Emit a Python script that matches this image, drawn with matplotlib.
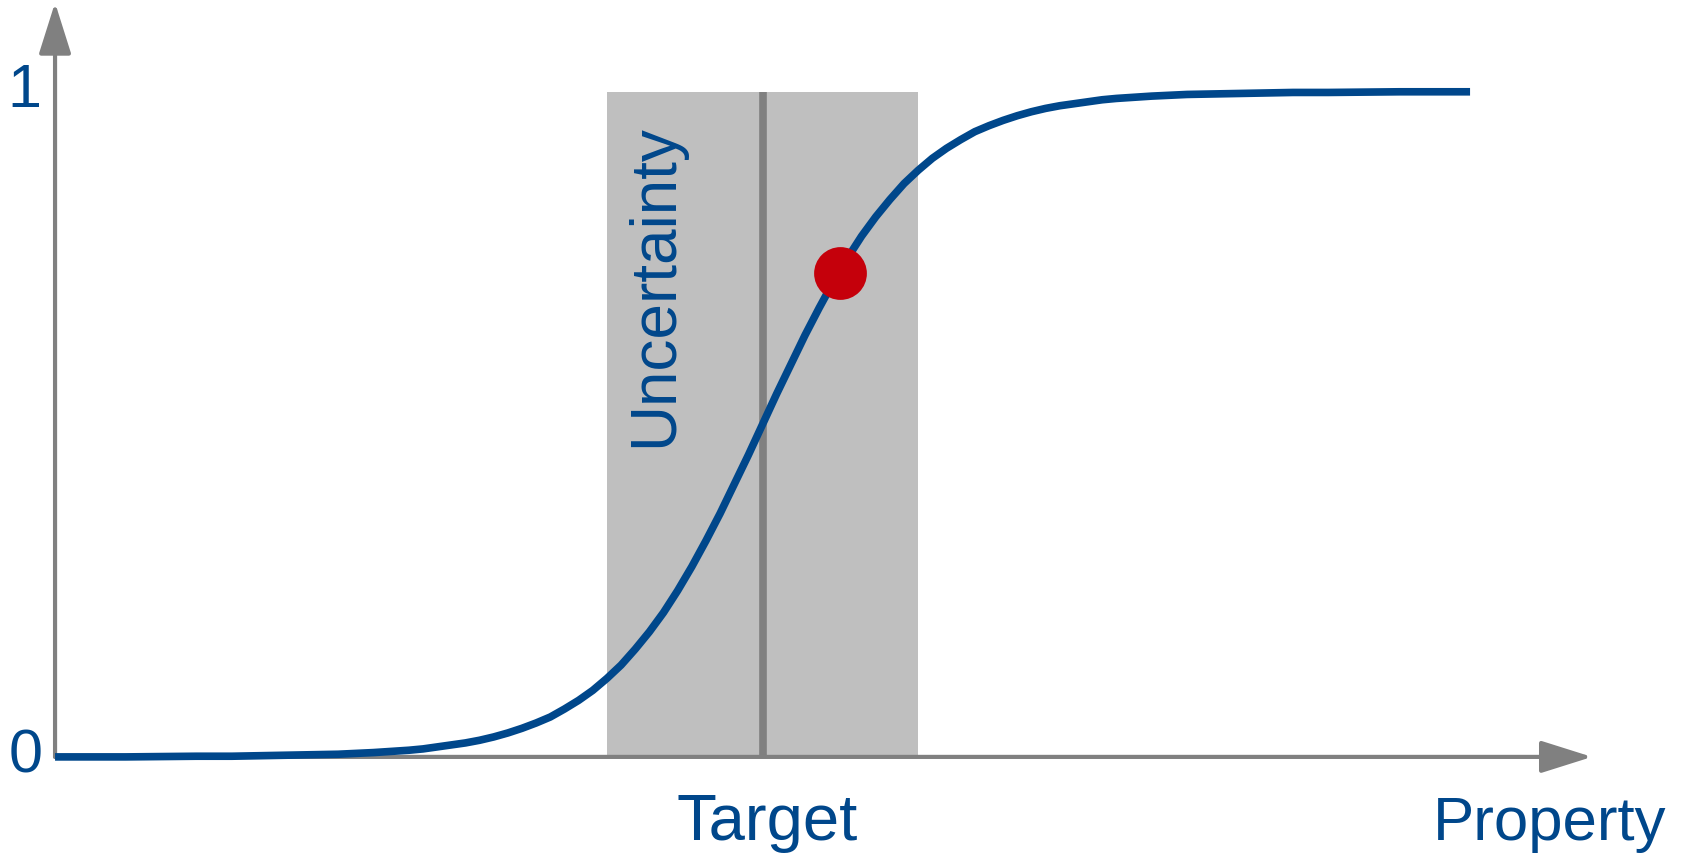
import matplotlib
matplotlib.use("Agg")
import matplotlib.pyplot as plt

plt.rcParams['font.family'] = ['Liberation Sans', 'DejaVu Sans']

# curve (property in arbitrary units, y from 0 to 1)
prop_x = [0, 0.5, 1, 1.25, 1.5, 1.75, 2, 2.25,
          2.5, 2.6, 2.7, 2.8, 2.9, 3.0, 3.1, 3.2, 3.3, 3.4, 3.5, 3.6, 3.7, 3.8, 3.9,
          4.0, 4.1, 4.2, 4.3, 4.4, 4.5, 4.6, 4.7, 4.8, 4.9, 5.0,
          5.1, 5.2, 5.3, 5.4, 5.5, 5.6, 5.7, 5.8, 5.9, 6.0, 6.1, 6.2, 6.3, 6.4,
          6.5, 6.6, 6.7, 6.8, 6.9, 7.0, 7.1, 7.2, 7.3, 7.4, 7.5,
          7.75, 8, 8.25, 8.5, 8.75, 9, 9.5, 10]
prop_y = [0.000, 0.000, 0.001, 0.001, 0.002, 0.003, 0.004, 0.0065,
          0.010, 0.012, 0.015, 0.018, 0.021, 0.025, 0.030, 0.036, 0.043, 0.051,
          0.060, 0.072, 0.085, 0.100, 0.118, 0.138, 0.162, 0.188, 0.217, 0.250,
          0.286, 0.325, 0.366, 0.410, 0.454, 0.500,
          0.546, 0.590, 0.634, 0.675, 0.714, 0.750, 0.783, 0.812, 0.838, 0.862,
          0.882, 0.900, 0.915, 0.928, 0.940, 0.949, 0.957, 0.964, 0.970, 0.975,
          0.979, 0.982, 0.985, 0.988, 0.990,
          0.9935, 0.996, 0.997, 0.998, 0.999, 0.999, 1.000, 1.000]

target = 5.0
band = (3.9, 6.1)          # uncertainty band
point_x, point_y = 5.55, 0.728

blue = '#00478b'
grey = '#808080'

fig = plt.figure(figsize=(16.85, 8.56), dpi=100)
ax = fig.add_axes([0, 0, 1, 1])
ax.set_xlim(-0.389, 11.519)
ax.set_ylim(-0.149, 1.138)
ax.axis('off')

# uncertainty band and target line
ax.axvspan(band[0], band[1], ymin=(0 + 0.149) / 1.287, ymax=(1 + 0.149) / 1.287,
           color='#bfbfbf', lw=0, zorder=1)
ax.plot([target, target], [0, 1], color=grey, lw=5.5, solid_capstyle='butt', zorder=2)

# axes with arrow heads
arrow = dict(arrowstyle='-|>,head_length=31.7,head_width=10', mutation_scale=1,
             color=grey, lw=3, shrinkA=0, shrinkB=0)
ax.annotate('', xy=(0, 1.134), xytext=(0, 0), arrowprops=arrow, zorder=3)
ax.annotate('', xy=(10.862, 0), xytext=(0, 0), arrowprops=arrow, zorder=3)

# curve and point
ax.plot(prop_x, prop_y, color=blue, lw=5.5, solid_capstyle='butt',
        solid_joinstyle='round', zorder=4)
ax.plot([point_x], [point_y], 'o', color='#c5000b', ms=38, mec='none', zorder=5)

# labels
ax.text(-0.22, 1.0, '1', color=blue, fontsize=44, ha='center', va='center')
ax.text(-0.205, 0.0, '0', color=blue, fontsize=44, ha='center', va='center')
ax.text(5.03, -0.125, 'Target', color=blue, fontsize=47, ha='center', va='baseline')
ax.text(10.56, -0.125, 'Property', color=blue, fontsize=44.5, ha='center', va='baseline')
ax.text(4.36, 0.466, 'Uncertainty', color=blue, fontsize=46, rotation=90,
        rotation_mode='anchor', ha='left', va='baseline', zorder=3)

fig.savefig('out.png', dpi=100)
